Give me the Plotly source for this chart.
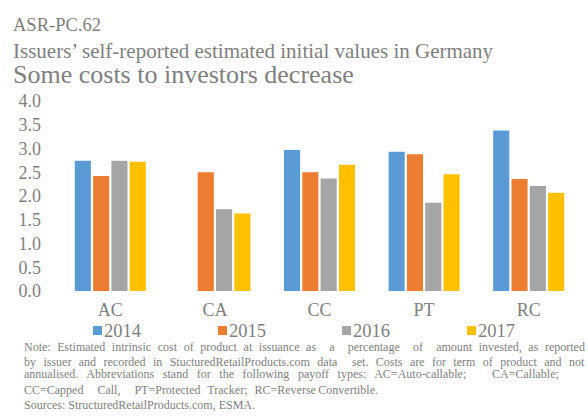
import plotly.graph_objects as go

# Payoff types and reporting years
categories = ["AC", "CA", "CC", "PT", "RC"]
years = ["2014", "2015", "2016", "2017"]

# Estimated initial costs (% of amount invested)
cost_2014 = [2.74, None, 2.97, 2.93, 3.38]
cost_2015 = [2.42, 2.50, 2.50, 2.88, 2.36]
cost_2016 = [2.74, 1.72, 2.37, 1.86, 2.21]
cost_2017 = [2.72, 1.63, 2.66, 2.46, 2.07]

series_values = [cost_2014, cost_2015, cost_2016, cost_2017]
series_colors = ["#5B9BD5", "#ED7D31", "#A5A5A5", "#FFC000"]

y_tick_values = [0.0, 0.5, 1.0, 1.5, 2.0, 2.5, 3.0, 3.5, 4.0]
y_tick_labels = ["0.0", "0.5", "1.0", "1.5", "2.0", "2.5", "3.0", "3.5", "4.0"]

title_lines = [
    "ASR-PC.62",
    "Issuers\u2019 self-reported estimated initial values in Germany",
    "Some costs to investors decrease",
]

note_lines = [
    "Note: Estimated intrinsic cost of product at issuance as  a  percentage  of  amount invested, as reported",
    "by issuer and recorded in StucturedRetailProducts.com data  set. Costs are for term of product and not",
    "annualised. Abbreviations stand for the following payoff types: AC=Auto-callable;   CA=Callable;",
    "CC=Capped  Call,  PT=Protected Tracker; RC=Reverse\u2009Convertible.",
    "Sources: StructuredRetailProducts.com, ESMA.",
]
# extra space between words so the paragraph lines run flush right
note_word_spacing = [3.6, 4.4, 5.6, 4.0, 0.0]

FONT = "Liberation Serif, Times New Roman, serif"
GREY = "#7F7F7F"

W, H = 588, 416
ML, MR, MT, MB = 58, 7, 101, 125
PW, PH = W - ML - MR, H - MT - MB


def px(x):
    return (x - ML) / PW


def py(y):
    return (H - MB - y) / PH


fig = go.Figure()
for name, vals, col in zip(years, series_values, series_colors):
    fig.add_trace(go.Bar(
        x=categories, y=vals, name=name,
        marker=dict(color=col, line=dict(width=0)),
        showlegend=False,
    ))

annotations = []
shapes = []

# Title block
title_specs = [(18.5, 24.5), (21, 51), (26, 74)]
for text, (size, yc) in zip(title_lines, title_specs):
    annotations.append(dict(
        text=text, xref="paper", yref="paper", x=px(11), y=py(yc),
        xanchor="left", yanchor="middle", showarrow=False,
        font=dict(family=FONT, size=size, color=GREY),
    ))

# Legend row: colour swatch followed by the year
legend_x = [93, 218, 342, 467]
for name, col, x0 in zip(years, series_colors, legend_x):
    shapes.append(dict(
        type="rect", xref="paper", yref="paper",
        x0=px(x0), x1=px(x0 + 9), y0=py(335), y1=py(326),
        fillcolor=col, line=dict(width=0),
    ))
    annotations.append(dict(
        text=name, xref="paper", yref="paper", x=px(x0 + 9), y=py(330.5),
        xanchor="left", yanchor="middle", showarrow=False,
        font=dict(family=FONT, size=18.5, color=GREY),
    ))

# Footnote
note_centres = [347, 361.5, 374, 389.5, 404.5]
for text, yc, ws in zip(note_lines, note_centres, note_word_spacing):
    annotations.append(dict(
        text=f'<span style="word-spacing:{ws}px">{text}</span>',
        xref="paper", yref="paper", x=px(22), y=py(yc),
        xanchor="left", yanchor="middle", showarrow=False,
        font=dict(family=FONT, size=12, color=GREY),
    ))

fig.update_layout(
    width=W, height=H,
    margin=dict(l=ML, r=MR, t=MT, b=MB, pad=0),
    paper_bgcolor="white", plot_bgcolor="white",
    barmode="group", bargap=0.30, bargroupgap=0.12,
    font=dict(family=FONT, color=GREY),
    annotations=annotations, shapes=shapes,
)
fig.update_xaxes(
    showgrid=False, showline=False, zeroline=False, ticks="",
    tickfont=dict(family=FONT, size=18, color=GREY),
    ticklabelstandoff=6,
)
fig.update_yaxes(
    range=[0, 4], showgrid=False, showline=False, zeroline=False, ticks="",
    tickvals=y_tick_values, ticktext=y_tick_labels,
    tickfont=dict(family=FONT, size=18, color=GREY),
    ticklabelstandoff=16,
)

fig.write_html("out.html")
